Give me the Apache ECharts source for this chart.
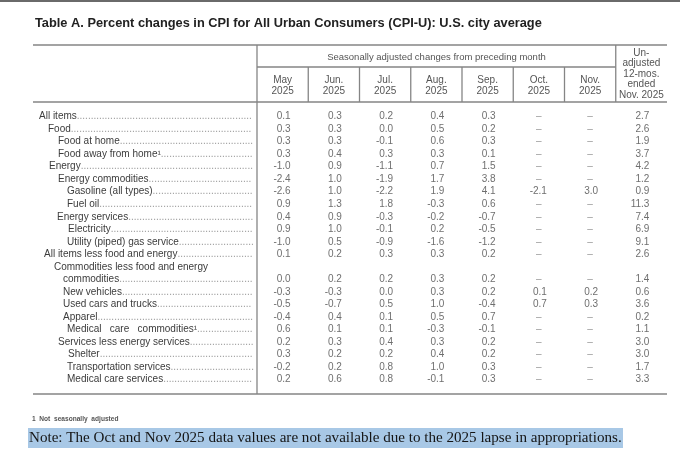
<!DOCTYPE html>
<html>
<head>
<meta charset="utf-8">
<script src="https://cdn.jsdelivr.net/npm/echarts@6/dist/echarts.min.js"></script>
<style>
html,body{margin:0;padding:0;background:#fff;}
#main{width:680px;height:463px;}
</style>
</head>
<body>
<div id="main"></div>
<script>
// column headers (months + 12 month column)
var columns = ['May\n2025', 'Jun.\n2025', 'Jul.\n2025', 'Aug.\n2025', 'Sep.\n2025', 'Oct.\n2025', 'Nov.\n2025', 'Un-\nadjusted\n12-mos.\nended\nNov. 2025'];

// row labels, one line each (the long one wraps onto two rows)
var itemLabels = ['All items', 'Food', 'Food at home', 'Food away from home\u00b9', 'Energy', 'Energy commodities',
  'Gasoline (all types)', 'Fuel oil', 'Energy services', 'Electricity', 'Utility (piped) gas service',
  'All items less food and energy', 'Commodities less food and energy', 'commodities', 'New vehicles',
  'Used cars and trucks', 'Apparel', 'Medical   care   commodities\u00b9', 'Services less energy services',
  'Shelter', 'Transportation services', 'Medical care services'];
var wrapRow = 12; // label only, no values

// values, one per item (21 items)
var may = [0.1, 0.3, 0.3, 0.3, -1.0, -2.4, -2.6, 0.9, 0.4, 0.9, -1.0, 0.1, 0.0, -0.3, -0.5, -0.4, 0.6, 0.2, 0.3, -0.2, 0.2];
var jun = [0.3, 0.3, 0.3, 0.4, 0.9, 1.0, 1.0, 1.3, 0.9, 1.0, 0.5, 0.2, 0.2, -0.3, -0.7, 0.4, 0.1, 0.3, 0.2, 0.2, 0.6];
var jul = [0.2, 0.0, -0.1, 0.3, -1.1, -1.9, -2.2, 1.8, -0.3, -0.1, -0.9, 0.3, 0.2, 0.0, 0.5, 0.1, 0.1, 0.4, 0.2, 0.8, 0.8];
var aug = [0.4, 0.5, 0.6, 0.3, 0.7, 1.7, 1.9, -0.3, -0.2, 0.2, -1.6, 0.3, 0.3, 0.3, 1.0, 0.5, -0.3, 0.3, 0.4, 1.0, -0.1];
var sep = [0.3, 0.2, 0.3, 0.1, 1.5, 3.8, 4.1, 0.6, -0.7, -0.5, -1.2, 0.2, 0.2, 0.2, -0.4, 0.7, -0.1, 0.2, 0.2, 0.3, 0.3];
var oct = [null, null, null, null, null, null, -2.1, null, null, null, null, null, null, 0.1, 0.7, null, null, null, null, null, null];
var nov = [null, null, null, null, null, null, 3.0, null, null, null, null, null, null, 0.2, 0.3, null, null, null, null, null, null];
var yoy = [2.7, 2.6, 1.9, 3.7, 4.2, 1.2, 0.9, 11.3, 7.4, 6.9, 9.1, 2.6, 1.4, 0.6, 3.6, 0.2, 1.1, 3.0, 3.0, 1.7, 3.3];
var colValues = [may, jun, jul, aug, sep, oct, nov, yoy];

// layout
var fontFam = '"Liberation Sans", Arial, sans-serif';
var labelStart = 39, leaderEnd = 255;
var indentX = [39, 48, 58, 58, 49, 58, 67, 67, 57, 68, 67, 44, 54, 63, 63, 63, 63, 67, 58, 68, 67, 67];
var tbl = {left: 33, right: 667, split: 257, colW: 51.25, top: 45, sub: 67, head: 102, bottom: 394};

var ctx = document.createElement('canvas').getContext('2d');
ctx.font = '10px ' + fontFam;
var dotW = ctx.measureText('.').width;

function leaders(i){
	var w = ctx.measureText(itemLabels[i]).width;
	var n = Math.floor((leaderEnd - indentX[i] - w - 1) / dotW);
	return n > 0 ? new Array(n + 1).join('.') : '';
}

var rowRich = {d: {fontSize: 10, color: '#9a9a9a', fontFamily: fontFam}};
for (var k = 0; k < itemLabels.length; k++) {
	rowRich['i' + k] = {fontSize: 10, color: '#3c3c3c', fontFamily: fontFam, padding: [0, 0, 0, indentX[k] - labelStart]};
}

// cells
var cells = [];
colValues.forEach(function(vals, c){
	vals.forEach(function(v, j){
		var row = j < wrapRow ? j : j + 1;
		if (v == null) {
			cells.push({value: [c, row], label: {formatter: '\u2013', align: 'center', offset: [0, 0], color: '#808080'}});
		} else {
			cells.push({value: [c, row], label: {formatter: v.toFixed(1), align: 'right', offset: [8, 0]}});
		}
	});
});

var lineStyle = {stroke: '#858585', lineWidth: 1.3};
function hline(y, x1, x2, w){
	return {type: 'line', silent: true, shape: {x1: x1, y1: y, x2: x2, y2: y}, style: {stroke: '#858585', lineWidth: w || 1.3}};
}
function vline(x, y1, y2){
	return {type: 'line', silent: true, shape: {x1: x, y1: y1, x2: x, y2: y2}, style: lineStyle};
}

var rules = [
	{type: 'line', silent: true, shape: {x1: 0, y1: 1, x2: 680, y2: 1}, style: {stroke: '#6a6a6a', lineWidth: 2}},
	hline(tbl.top, tbl.left, tbl.right, 1.6),
	hline(tbl.sub, tbl.split, tbl.split + 7 * tbl.colW),
	hline(tbl.head, tbl.left, tbl.right, 1.6),
	hline(tbl.bottom, tbl.left, tbl.right, 1.6),
	vline(tbl.split, tbl.top, tbl.bottom),
	vline(tbl.split + 7 * tbl.colW, tbl.top, tbl.head)
];
for (var s = 1; s < 7; s++) {
	rules.push(vline(tbl.split + s * tbl.colW, tbl.sub, tbl.head));
}

var myChart = echarts.init(document.getElementById('main'));
var option = {
	backgroundColor: '#fff',
	animation: false,
	title: {
		text: 'Table A. Percent changes in CPI for All Urban Consumers (CPI-U): U.S. city average',
		left: 35,
		top: 16,
		padding: 0,
		textStyle: {fontSize: 12.8, fontWeight: 'bold', color: '#222', fontFamily: fontFam, lineHeight: 14}
	},
	grid: {left: tbl.split, right: 680 - tbl.right, top: 110.2, bottom: 77},
	xAxis: {
		type: 'category',
		position: 'top',
		data: columns,
		axisLine: {show: false},
		axisTick: {show: false},
		splitLine: {show: false},
		axisLabel: {
			interval: 0,
			margin: 9.8,
			verticalAlign: 'bottom',
			formatter: function(val, idx){
				var parts = val.split('\n');
				if (idx === 7) {
					return parts.map(function(p){ return '{u|' + p + '}'; }).join('\n');
				}
				return parts.map(function(p){ return '{m|' + p + '}'; }).join('\n') + '\n{s| }';
			},
			rich: {
				m: {fontSize: 10, lineHeight: 11, color: '#555', fontFamily: fontFam},
				u: {fontSize: 10, lineHeight: 10.5, color: '#555', fontFamily: fontFam},
				s: {fontSize: 1, lineHeight: 4}
			}
		}
	},
	yAxis: {
		type: 'category',
		inverse: true,
		data: itemLabels,
		axisLine: {show: false},
		axisTick: {show: false},
		splitLine: {show: false},
		axisLabel: {
			interval: 0,
			align: 'left',
			margin: tbl.split - labelStart,
			formatter: function(val, idx){
				var txt = '{i' + idx + '|' + val + '}';
				if (idx !== wrapRow) txt += '{d|' + leaders(idx) + '}';
				return txt;
			},
			rich: rowRich
		}
	},
	series: [{
		type: 'scatter',
		symbolSize: 1,
		itemStyle: {color: 'rgba(0,0,0,0)'},
		silent: true,
		label: {
			show: true,
			position: 'inside',
			fontSize: 10,
			color: '#4a4a4a',
			fontFamily: fontFam
		},
		data: cells
	}],
	graphic: rules.concat([
		{type: 'text', silent: true, x: 436.5, y: 57,
			style: {text: 'Seasonally adjusted changes from preceding month', fontSize: 9.5, fill: '#555', fontFamily: fontFam, align: 'center', verticalAlign: 'middle'}},
		{type: 'text', silent: true, x: 32, y: 419,
			style: {text: '1  Not  seasonally  adjusted', fontSize: 6.6, fontWeight: 'bold', fill: '#555', fontFamily: fontFam, verticalAlign: 'middle'}},
		{type: 'rect', silent: true, shape: {x: 28, y: 428, width: 595, height: 20}, style: {fill: '#a8c8e6'}},
		{type: 'text', silent: true, x: 29, y: 438.5,
			style: {text: 'Note: The Oct and Nov 2025 data values are not available due to the 2025 lapse in appropriations.', fontSize: 15.1, fill: '#151515', fontFamily: '"Liberation Serif", "Times New Roman", serif', verticalAlign: 'middle'}}
	])
};
myChart.setOption(option);
</script>
</body>
</html>
